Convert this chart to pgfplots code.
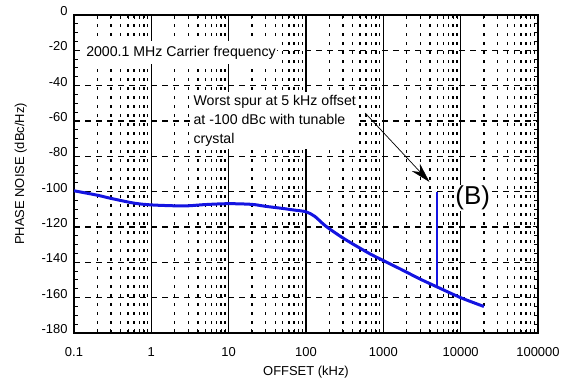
\documentclass[border=0pt]{standalone}
\usepackage{pgfplots}
\pgfplotsset{compat=1.18}
\usepackage{fontspec}
\setmainfont{Liberation Sans}
\usetikzlibrary{arrows.meta}
\definecolor{curveblue}{RGB}{20,20,225}
\begin{document}
\begin{tikzpicture}
\begin{axis}[
  set layers=standard,
  scale only axis,
  width=464bp, height=318bp,
  xmode=log,
  xmin=0.1, xmax=100000,
  ymin=-180, ymax=0,
  xtick={0.1,1,10,100,1000,10000,100000},
  xticklabels={0.1,1,10,100,1000,10000,100000},
  ytick={-180,-160,-140,-120,-100,-80,-60,-40,-20,0},
  minor y tick num=3,
  /pgf/number format/assume math mode=true,
  ticklabel style={font=\fontsize{13}{15}\selectfont},
  xticklabel style={yshift=-11bp},
  yticklabel style={xshift=-3bp, yshift=4bp},
  tick align=inside,
  major tick length=5bp,
  minor tick length=4bp,
  tick style={black, line width=1bp},
  axis line style={line width=2.5bp},
  xmajorgrids, xminorgrids, ymajorgrids,
  major x grid style={black, solid, line width=1.4bp},
  minor x grid style={black, line width=1.4bp, dash pattern=on 2.5bp off 6.5bp},
  major y grid style={black, line width=1.2bp, dash pattern=on 6bp off 5bp},
  xlabel={OFFSET (kHz)},
  ylabel={PHASE NOISE (dBc/Hz)},
  label style={font=\fontsize{13}{15}\selectfont},
  xlabel style={yshift=-3bp},
  ylabel style={yshift=8bp},
  clip=false,
]
\addplot[curveblue, line width=3bp, smooth] coordinates {
(0.1,-99.5) (0.2,-102) (0.3,-103.8) (0.6,-106.5) (1,-107.5) (2,-108)
(3,-108) (5,-107.3) (10,-106.8) (20,-107.2) (30,-108.3) (50,-109.5)
(70,-110.4) (100,-111.4) (130,-114) (180,-119.5) (300,-126.2) (500,-132)
(700,-135.6) (1000,-139) (1700,-144) (3000,-149.5) (5000,-154) (10000,-160) (20000,-165)
};
\addplot[curveblue, line width=2bp] coordinates {(5000,-100) (5000,-154)};
\begin{pgfonlayer}{axis foreground}
\node[fill=white, inner xsep=1.5bp, inner ysep=5bp, font=\fontsize{14.2}{16}\selectfont]
  at (axis cs:2.42,-21.3) {2000.1 MHz Carrier frequency};
\node[fill=white, anchor=north west, align=left, inner xsep=3bp, inner ysep=3bp,
  font=\fontsize{14.2}{19}\selectfont]
  at (axis cs:3.2,-43.6) {Worst spur at 5 kHz offset\\at -100 dBc with tunable\\crystal};
\draw[line width=0.7bp, -{Stealth[length=20bp,width=11bp]}] (axis cs:583,-55.5) -- (axis cs:3950,-94.5);
\node[fill=white, inner sep=1bp, font=\fontsize{26}{28}\selectfont] at (axis cs:14300,-103.5) {(B)};
\end{pgfonlayer}
\end{axis}
\pgfresetboundingbox
\path ([xshift=-74bp,yshift=-53bp]current axis.south west) rectangle ++(563bp,386bp);
\end{tikzpicture}
\end{document}
